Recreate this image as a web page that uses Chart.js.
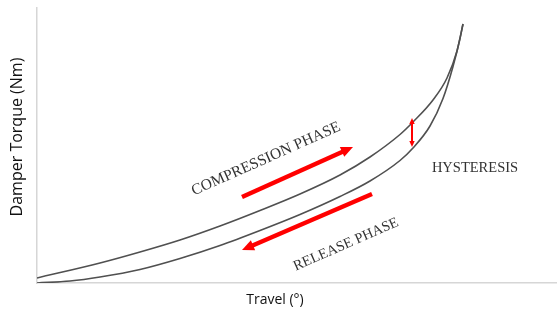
<!DOCTYPE html>
<html>
<head>
<meta charset="utf-8">
<script src="https://cdn.jsdelivr.net/npm/chart.js@4/dist/chart.umd.min.js"></script>
<style>
  html, body { margin: 0; padding: 0; background: #fff; }
  #wrap { width: 557px; height: 312px; position: relative; }
</style>
</head>
<body>
<div id="wrap"><canvas id="hyst"></canvas></div>
<script>
// travel (deg) / torque (Nm)
var compTravel = [0, 6.3, 10.3, 14.3, 18.3, 22.3, 26.3, 30.3, 33.3, 36.3, 37.6, 39.6, 41.0, 42.0, 42.6];
var compTorque = [0.5, 2.0, 3.1, 4.3, 5.7, 7.25, 8.9, 10.8, 12.6, 14.85, 16.1, 18.3, 20.5, 23.2, 25.9];
var relTravel  = [0, 3.3, 6.3, 10.3, 14.3, 18.3, 22.3, 26.3, 30.3, 33.3, 36.3, 37.6, 39.3, 40.6, 41.6, 42.3, 42.6];
var relTorque  = [0, 0.2, 0.6, 1.35, 2.45, 3.75, 5.25, 6.85, 8.65, 10.2, 12.25, 13.5, 15.7, 18.45, 21.65, 24.45, 25.9];

var xTitle = 'Travel (°)';
var yTitle = 'Damper Torque (Nm)';

function pts(xs, ys) {
  var out = [];
  for (var i = 0; i < xs.length; i++) out.push({x: xs[i], y: ys[i]});
  return out;
}

// annotations, in chart units
var notes = {
  arrows: [
    {from: [20.5, 8.6], to: [31.6, 13.6], w: 4.5, head: 12, both: false},
    {from: [33.5, 8.9], to: [20.5, 3.3], w: 4.5, head: 12, both: false},
    {from: [37.5, 13.6], to: [37.5, 16.5], w: 2, head: 6, both: true}
  ],
  labels: [
    {text: 'COMPRESSION PHASE', at: [22.9, 12.4], rot: -24, size: 15.5},
    {text: 'RELEASE PHASE', at: [30.9, 3.85], rot: -23.6, size: 14.5},
    {text: 'HYSTERESIS', at: [43.8, 11.5], rot: 0, size: 14.5}
  ]
};

function arrowHead(ctx, x1, y1, x2, y2, size) {
  var a = Math.atan2(y2 - y1, x2 - x1);
  ctx.beginPath();
  ctx.moveTo(x2, y2);
  ctx.lineTo(x2 - size * Math.cos(a) + size * 0.45 * Math.sin(a), y2 - size * Math.sin(a) - size * 0.45 * Math.cos(a));
  ctx.lineTo(x2 - size * Math.cos(a) - size * 0.45 * Math.sin(a), y2 - size * Math.sin(a) + size * 0.45 * Math.cos(a));
  ctx.closePath();
  ctx.fill();
}

var notesPlugin = {
  id: 'notes',
  afterDraw: function(chart) {
    var ctx = chart.ctx, sx = chart.scales.x, sy = chart.scales.y;
    ctx.save();
    ctx.fillStyle = '#ff0000';
    ctx.strokeStyle = '#ff0000';
    notes.arrows.forEach(function(a) {
      var x1 = sx.getPixelForValue(a.from[0]), y1 = sy.getPixelForValue(a.from[1]);
      var x2 = sx.getPixelForValue(a.to[0]), y2 = sy.getPixelForValue(a.to[1]);
      var ang = Math.atan2(y2 - y1, x2 - x1);
      var bx1 = x1, by1 = y1;
      if (a.both) { bx1 = x1 + a.head * 0.8 * Math.cos(ang); by1 = y1 + a.head * 0.8 * Math.sin(ang); }
      ctx.lineWidth = a.w;
      ctx.beginPath();
      ctx.moveTo(bx1, by1);
      ctx.lineTo(x2 - a.head * 0.8 * Math.cos(ang), y2 - a.head * 0.8 * Math.sin(ang));
      ctx.stroke();
      arrowHead(ctx, x1, y1, x2, y2, a.head);
      if (a.both) arrowHead(ctx, x2, y2, x1, y1, a.head);
    });
    ctx.fillStyle = '#333333';
    ctx.textAlign = 'center';
    ctx.textBaseline = 'middle';
    notes.labels.forEach(function(l) {
      ctx.save();
      ctx.font = l.size + 'px "Liberation Serif", serif';
      ctx.translate(sx.getPixelForValue(l.at[0]), sy.getPixelForValue(l.at[1]));
      ctx.rotate(l.rot * Math.PI / 180);
      ctx.fillText(l.text, 0, 0);
      ctx.restore();
    });
    // axis titles
    ctx.fillStyle = '#111111';
    ctx.font = '14px "Open Sans", sans-serif';
    ctx.fillText(xTitle, 275, 300);
    ctx.save();
    ctx.translate(17, 137);
    ctx.rotate(-Math.PI / 2);
    ctx.font = '16px "Open Sans", sans-serif';
    ctx.fillText(yTitle, 0, 0);
    ctx.restore();
    ctx.restore();
  }
};

new Chart(document.getElementById('hyst'), {
  type: 'line',
  data: {
    datasets: [
      {label: 'Compression', data: pts(compTravel, compTorque), borderColor: '#505050', borderWidth: 1.6,
       pointRadius: 0, fill: false, cubicInterpolationMode: 'monotone'},
      {label: 'Release', data: pts(relTravel, relTorque), borderColor: '#505050', borderWidth: 1.6,
       pointRadius: 0, fill: false, cubicInterpolationMode: 'monotone'}
    ]
  },
  options: {
    responsive: true,
    maintainAspectRatio: false,
    animation: false,
    layout: {padding: {left: 37, top: 8, right: 0, bottom: 29}},
    plugins: {legend: {display: false}, tooltip: {enabled: false}},
    scales: {
      x: {type: 'linear', min: 0, max: 52, grid: {display: false, drawTicks: false},
          border: {display: true, color: '#d6d6d6', width: 1.5}, ticks: {display: false}},
      y: {min: 0, max: 27.5, grid: {display: false, drawTicks: false},
          border: {display: true, color: '#d6d6d6', width: 1.5}, ticks: {display: false}}
    }
  },
  plugins: [notesPlugin]
});
</script>
</body>
</html>
